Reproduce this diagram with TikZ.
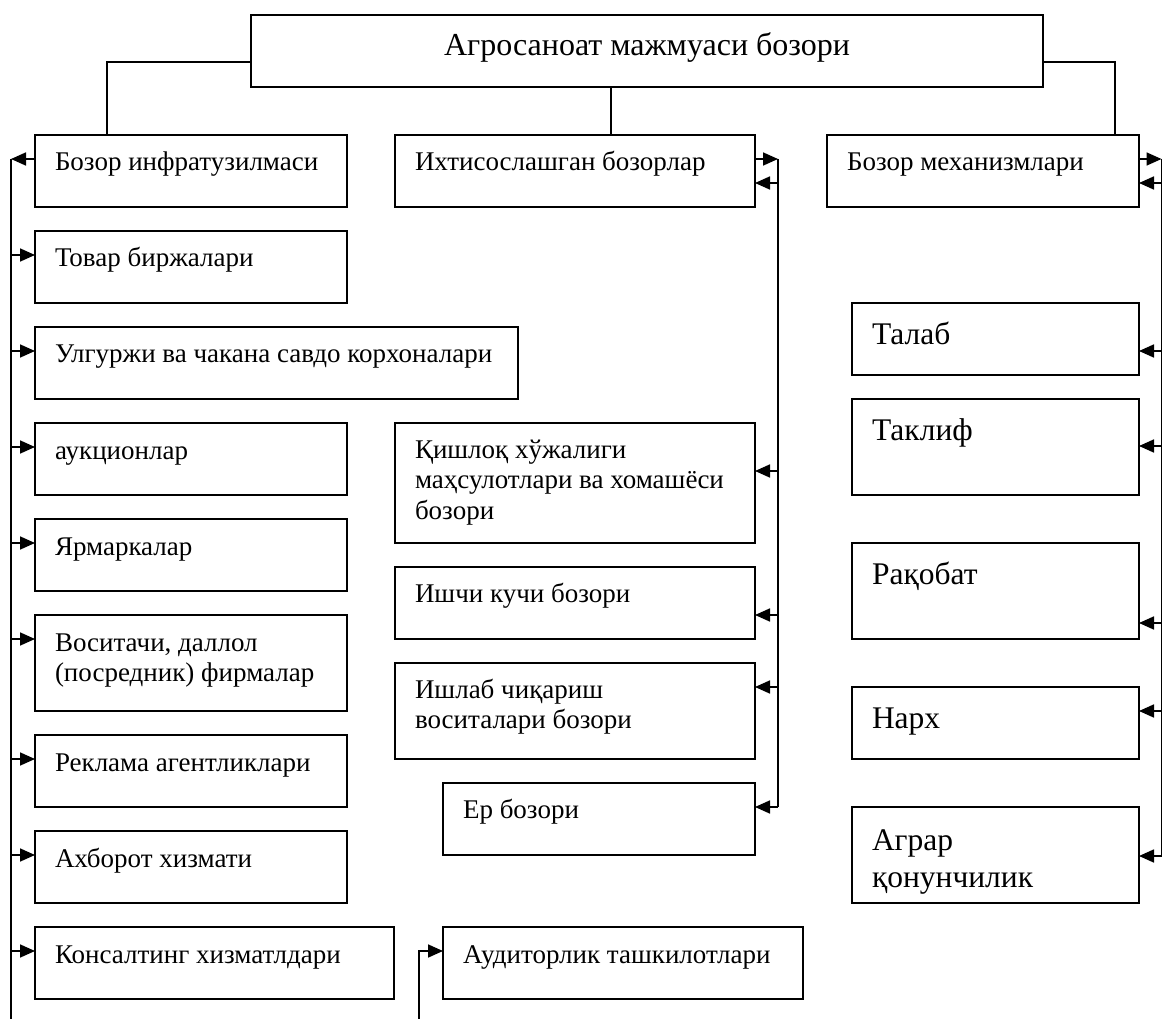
\documentclass[tikz,border=0pt]{standalone}
\usepackage{fontspec}
\setmainfont{Liberation Serif}
\usetikzlibrary{arrows.meta}
\newcommand\normfont{\fontsize{27}{30.7}\selectfont}
\newcommand\bigfont{\fontsize{31.5}{37}\selectfont}
% #1 width, #2 height, #3 baseline offset, #4 text
\newcommand\bxt[4]{\parbox[c][#2pt][t]{#1pt}{\raggedright\leftskip=20pt\rule{0pt}{#3pt}#4}}
\tikzset{
  boxst/.style={draw, line width=1.7pt, inner sep=0pt, outer sep=0pt, anchor=north west},
  conn/.style={line width=1.7pt},
  arr/.style={line width=1.7pt, -{Triangle[length=15pt,width=13pt]}}
}
\begin{document}
\begin{tikzpicture}[x=1pt,y=-1pt]
\useasboundingbox (0,0) rectangle (1163,1019);
% title
\node[boxst] (top) at (251,15) {\parbox[c][72pt][t]{792pt}{\centering\fontsize{32}{37}\selectfont\rule{0pt}{41pt}Агросаноат мажмуаси бозори}};
% left column
\node[boxst] (b1) at (35,135) {\normfont\bxt{312}{72}{36}{Бозор инфратузилмаси}};
\node[boxst] (b2) at (35,231) {\normfont\bxt{312}{72}{36}{Товар биржалари}};
\node[boxst] (b3) at (35,327) {\normfont\bxt{483}{72}{36}{Улгуржи ва чакана савдо корхоналари}};
\node[boxst] (b4) at (35,423) {\normfont\bxt{312}{72}{36}{аукционлар}};
\node[boxst] (b5) at (35,519) {\normfont\bxt{312}{72}{36}{Ярмаркалар}};
\node[boxst] (b6) at (35,615) {\normfont\bxt{312}{96}{36}{Воситачи, даллол\\(посредник) фирмалар}};
\node[boxst] (b7) at (35,735) {\normfont\bxt{312}{72}{36}{Реклама агентликлари}};
\node[boxst] (b8) at (35,831) {\normfont\bxt{312}{72}{36}{Ахборот хизмати}};
\node[boxst] (b9) at (35,927) {\normfont\bxt{359}{72}{36}{Консалтинг хизматлдари}};
\node[boxst] (au) at (443,927) {\normfont\bxt{360}{72}{36}{Аудиторлик ташкилотлари}};
% middle column
\node[boxst] (m1) at (395,135) {\normfont\bxt{360}{72}{36}{Ихтисослашган бозорлар}};
\node[boxst] (m2) at (395,423) {\normfont\bxt{360}{120}{35}{Қишлоқ хўжалиги\\маҳсулотлари ва хомашёси\\бозори}};
\node[boxst] (m3) at (395,567) {\normfont\bxt{360}{72}{35}{Ишчи кучи бозори}};
\node[boxst] (m4) at (395,663) {\normfont\bxt{360}{96}{35}{Ишлаб чиқариш\\воситалари бозори}};
\node[boxst] (m5) at (443,783) {\normfont\bxt{312}{72}{35}{Ер бозори}};
% right column
\node[boxst] (r0) at (827,135) {\normfont\bxt{312}{72}{36}{Бозор механизмлари}};
\node[boxst] (r1) at (852,303) {\bigfont\bxt{287}{72}{41}{Талаб}};
\node[boxst] (r2) at (852,399) {\bigfont\bxt{287}{96}{41}{Таклиф}};
\node[boxst] (r3) at (852,543) {\bigfont\bxt{287}{96}{41}{Рақобат}};
\node[boxst] (r4) at (852,687) {\bigfont\bxt{287}{72}{41}{Нарх}};
\node[boxst] (r5) at (852,807) {\bigfont\bxt{287}{96}{43}{Аграр\\қонунчилик}};

% title connectors
\coordinate (TL) at ([yshift=-47pt]top.north west);
\coordinate (TR) at ([yshift=-47pt]top.north east);
\coordinate (b1c) at ([xshift=72pt]b1.north west);
\coordinate (m1c) at ([xshift=216pt]m1.north west);
\coordinate (r0c) at ([xshift=288pt]r0.north west);
\draw[conn] (TL) -| (b1c);
\draw[conn] (m1c |- top.south) -- (m1c);
\draw[conn] (TR) -| (r0c);

% left bus
\coordinate (Ltop) at (11,159);
\coordinate (Lbot) at (11,1019);
\draw[conn] (Ltop) -- (Lbot);
\coordinate (b1a) at ([yshift=-24pt]b1.north west);
\draw[arr] (b1a) -- (b1a -| Ltop);
\foreach \n in {b2,b3,b4,b5,b6,b7,b8,b9}{
  \coordinate (\n a) at ([yshift=-24pt]\n.north west);
  \draw[arr] (\n a -| Ltop) -- (\n a);
}
% auditor connector
\coordinate (Abot) at (419,1019);
\coordinate (aua) at ([yshift=-24pt]au.north west);
\draw[arr] (Abot) |- (aua);

% middle bus
\coordinate (Mtop) at (778,159);
\coordinate (m1o) at ([yshift=-24pt]m1.north east);
\draw[arr] (m1o) -- (m1o -| Mtop);
\coordinate (m1i) at ([yshift=-48pt]m1.north east);
\coordinate (m2i) at ([yshift=-48pt]m2.north east);
\coordinate (m3i) at ([yshift=-48pt]m3.north east);
\coordinate (m4i) at ([yshift=-24pt]m4.north east);
\coordinate (m5i) at ([yshift=-24pt]m5.north east);
\draw[conn] (Mtop) -- (m5i -| Mtop);
\foreach \n in {m1i,m2i,m3i,m4i,m5i}{
  \draw[arr] (\n -| Mtop) -- (\n);
}

% right bus
\coordinate (Rtop) at (1161.5,159);
\coordinate (r0o) at ([yshift=-24pt]r0.north east);
\draw[arr] (r0o) -- (r0o -| Rtop);
\coordinate (r0i) at ([yshift=-48pt]r0.north east);
\coordinate (r1i) at ([yshift=-48pt]r1.north east);
\coordinate (r2i) at ([yshift=-47pt]r2.north east);
\coordinate (r3i) at ([yshift=-80pt]r3.north east);
\coordinate (r4i) at ([yshift=-24pt]r4.north east);
\coordinate (r5i) at ([yshift=-49pt]r5.north east);
\draw[conn] (Rtop) -- (r5i -| Rtop);
\foreach \n in {r0i,r1i,r2i,r3i,r4i,r5i}{
  \draw[arr] (\n -| Rtop) -- (\n);
}
\end{tikzpicture}
\end{document}
